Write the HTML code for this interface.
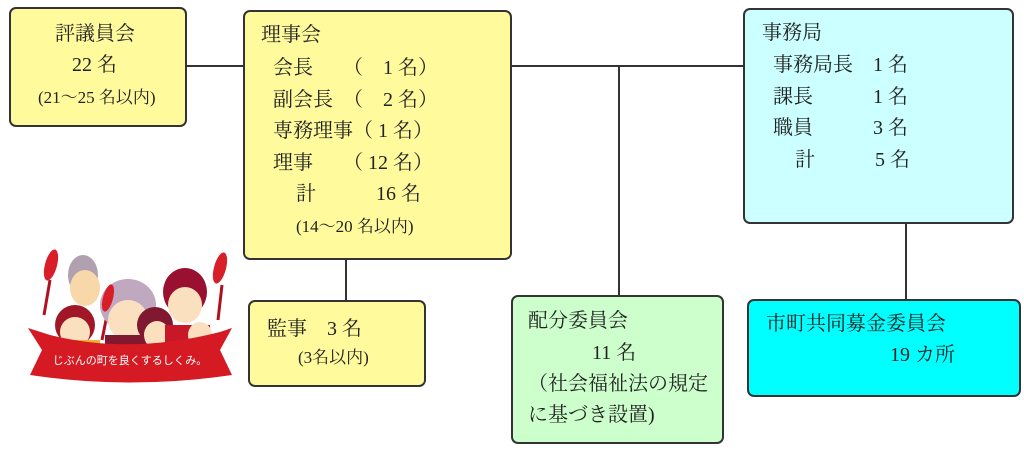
<!DOCTYPE html>
<html><head><meta charset="utf-8">
<style>
body{margin:0;width:1024px;height:463px;background:#fff;position:relative;overflow:hidden;font-family:"Liberation Serif","Noto Serif CJK JP","Noto Serif CJK SC",serif;color:#222;}
.b{position:absolute;border:2px solid #333;border-radius:7px;box-sizing:border-box;}
.y{background:#fffa9c;}
.c{background:#ccffff;}
.g{background:#ccffcc;}
.k{background:#00ffff;}
.t{position:absolute;font-size:20px;white-space:pre;line-height:22px;}
.s{font-size:17px;}
.l{position:absolute;background:#333;}
</style></head><body>
<div class="l" style="left:186px;top:65px;width:58px;height:2px"></div>
<div class="l" style="left:511px;top:65px;width:233px;height:2px"></div>
<div class="l" style="left:618px;top:65px;width:2px;height:231px"></div>
<div class="l" style="left:345px;top:259px;width:2px;height:42px"></div>
<div class="l" style="left:905px;top:222px;width:2px;height:77px"></div>

<div class="b y" style="left:9px;top:7px;width:178px;height:120px"></div>
<div class="t" style="left:55px;top:23px">評議員会</div>
<div class="t" style="left:72px;top:54px">22 名</div>
<div class="t s" style="left:38px;top:87px">(21～25 名以内)</div>

<div class="b y" style="left:243px;top:10px;width:269px;height:250px"></div>
<div class="t" style="left:261px;top:24px">理事会</div>
<div class="t" style="left:273px;top:57px">会長　　（　1 名）</div>
<div class="t" style="left:273px;top:89px">副会長　（　2 名）</div>
<div class="t" style="left:273px;top:120px">専務理事（ 1 名）</div>
<div class="t" style="left:273px;top:152px">理事　　（ 12 名）</div>
<div class="t" style="left:296px;top:183px">計　　　16 名</div>
<div class="t s" style="left:296px;top:216px">(14～20 名以内)</div>

<div class="b y" style="left:248px;top:300px;width:178px;height:87px"></div>
<div class="t" style="left:267px;top:318px">監事　3 名</div>
<div class="t s" style="left:298px;top:347px">(3名以内)</div>

<div class="b c" style="left:743px;top:8px;width:271px;height:216px"></div>
<div class="t" style="left:762px;top:22px">事務局</div>
<div class="t" style="left:773px;top:54px">事務局長　1 名</div>
<div class="t" style="left:773px;top:86px">課長　　　1 名</div>
<div class="t" style="left:773px;top:117px">職員　　　3 名</div>
<div class="t" style="left:795px;top:149px">計　　　5 名</div>

<div class="b g" style="left:511px;top:295px;width:213px;height:149px"></div>
<div class="t" style="left:528px;top:310px">配分委員会</div>
<div class="t" style="left:592px;top:342px">11 名</div>
<div class="t" style="left:528px;top:373px">（社会福祉法の規定</div>
<div class="t" style="left:528px;top:404px">に基づき設置)</div>

<div class="b k" style="left:747px;top:299px;width:274px;height:98px"></div>
<div class="t" style="left:766px;top:313px">市町共同募金委員会</div>
<div class="t" style="left:890px;top:344px">19 カ所</div>

<svg style="position:absolute;left:20px;top:240px" width="220" height="150" viewBox="0 0 220 150">
 <g stroke="#b01020" stroke-width="3"><line x1="30" y1="40" x2="24" y2="75"/><line x1="88" y1="70" x2="82" y2="100"/><line x1="202" y1="45" x2="198" y2="80"/></g>
 <ellipse cx="31" cy="25" rx="6" ry="16" fill="#d81e28" transform="rotate(15 31 25)"/>
 <ellipse cx="200" cy="28" rx="6" ry="16" fill="#d81e28" transform="rotate(15 200 28)"/>
 <ellipse cx="63" cy="35" rx="15" ry="20" fill="#b0a0b0"/>
 <ellipse cx="65" cy="48" rx="15" ry="18" fill="#f8d8a8"/>
 <ellipse cx="55" cy="85" rx="20" ry="20" fill="#a01828"/>
 <ellipse cx="55" cy="92" rx="15" ry="15" fill="#fbe0c0"/>
 <rect x="40" y="100" width="40" height="30" fill="#f0b030"/>
 <ellipse cx="108" cy="65" rx="28" ry="26" fill="#c0a8c0"/>
 <ellipse cx="108" cy="80" rx="20" ry="20" fill="#fbe0c0"/>
 <rect x="85" y="95" width="45" height="35" fill="#801830"/>
 <ellipse cx="88" cy="58" rx="5" ry="14" fill="#d81e28" transform="rotate(15 88 58)"/>
 <ellipse cx="135" cy="85" rx="18" ry="18" fill="#801830"/>
 <ellipse cx="137" cy="95" rx="13" ry="14" fill="#fbe0c0"/>
 <ellipse cx="165" cy="52" rx="22" ry="24" fill="#9a1030"/>
 <ellipse cx="165" cy="65" rx="17" ry="18" fill="#fbe0c0"/>
 <rect x="145" y="85" width="45" height="45" fill="#c81828"/>
 <ellipse cx="180" cy="95" rx="12" ry="13" fill="#fbe0c0"/>
 <rect x="165" y="100" width="30" height="30" fill="#f0b030"/>
 <path d="M8 88 L30 95 Q110 115 200 92 L212 88 L200 110 L212 135 Q110 150 10 135 L22 110 Z" fill="#d61a24"/>
 <text x="110" y="124" font-size="11" fill="#fff" text-anchor="middle" font-family="Noto Sans CJK JP,sans-serif">じぶんの町を良くするしくみ。</text>
</svg>
</body></html>
